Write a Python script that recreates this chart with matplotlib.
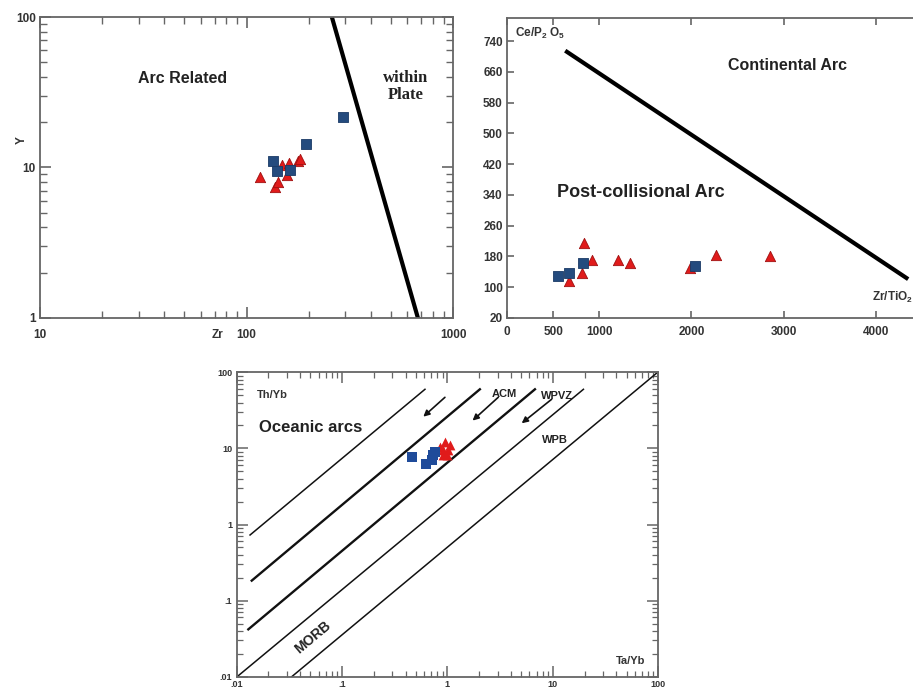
import numpy as np
import matplotlib
matplotlib.use("Agg")
import matplotlib.pyplot as plt
from matplotlib.ticker import NullFormatter, LogLocator

plt.rcParams['font.family'] = ['Liberation Sans', 'DejaVu Sans']
plt.rcParams['mathtext.default'] = 'regular'

"DATA"
# panel a : Zr vs Y (log-log)
zr_sq = [134, 141, 163, 194, 293]
y_sq = [11.0, 9.5, 9.6, 14.3, 21.7]
zr_tri = [116, 137, 142, 149, 157, 161, 178, 181]
y_tri = [8.6, 7.4, 8.0, 10.4, 8.9, 10.7, 11.0, 11.4]
zr_line = [259, 676]
y_line = [100, 1]

# panel b : Zr/TiO2 vs Ce/P2O5
zt_sq = [554, 674, 826, 2033]
ce_sq = [129, 137, 163, 155]
zt_tri = [674, 837, 924, 815, 1207, 1337, 1989, 2261, 2848]
ce_tri = [116, 215, 171, 137, 171, 163, 150, 184, 181]
zt_line = [650, 4330]
ce_line = [712, 124]

# panel c : Ta/Yb vs Th/Yb (log-log)
ta_sq = [0.457, 0.625, 0.708, 0.734, 0.761]
th_sq = [7.64, 6.24, 7.05, 8.2, 9.06]
ta_tri = [0.849, 0.947, 1.02, 0.912, 1.06, 0.90, 0.98]
th_tri = [10.3, 12.3, 9.5, 8.2, 11.1, 9.5, 8.2]
# boundary lines: (x0, y0, x1, y1, width)
bounds = [
    (0.0134, 0.728, 0.612, 59.8, 1.1),
    (0.0139, 0.183, 2.03, 59.8, 1.7),
    (0.0129, 0.0419, 6.76, 59.8, 1.7),
    (0.0101, 0.0100, 19.5, 59.8, 1.1),
    (0.0333, 0.0100, 96.0, 97.0, 1.1),
]
arrows = [
    (0.946, 46.9, 0.59, 26.1),
    (3.03, 46.9, 1.73, 23.2),
    (9.73, 44.2, 5.06, 21.4),
]

SQ = '#244b7e'
TRI = '#e01b1b'
SPINE = '#666666'
TXT = '#333333'


def frame(ax):
    for s in ax.spines.values():
        s.set_color(SPINE)
        s.set_linewidth(1.3)
    ax.tick_params(which='both', direction='in', top=True, right=True,
                   colors=SPINE, labelcolor=TXT)


fig = plt.figure(figsize=(9.13, 6.92), dpi=100)

# ---- panel a
ax1 = fig.add_axes([0.0438, 0.5405, 0.4524, 0.4349])
ax1.set_xscale('log')
ax1.set_yscale('log')
ax1.set_xlim(10, 1000)
ax1.set_ylim(1, 100)
frame(ax1)
ax1.set_xticks([10, 100, 1000])
ax1.set_xticklabels(['10', '100', '1000'], fontweight='bold', fontsize=8.5)
ax1.set_yticks([1, 10, 100])
ax1.set_yticklabels(['1', '10', '100'], fontweight='bold', fontsize=8.5)
ax1.xaxis.set_minor_formatter(NullFormatter())
ax1.yaxis.set_minor_formatter(NullFormatter())
ax1.tick_params(which='major', length=8, width=1.2, pad=8)
ax1.tick_params(which='minor', length=5, width=1.0)
ax1.tick_params(axis='y', which='major', pad=3)
ax1.plot(zr_line, y_line, color='black', lw=3.0, zorder=2)
ax1.scatter(zr_tri, y_tri, marker='^', s=55, color=TRI, edgecolor='#a01010', lw=0.6, zorder=3)
ax1.scatter(zr_sq, y_sq, marker='s', s=44, color=SQ, edgecolor='#1a3a66', lw=0.6, zorder=4)
ax1.text(0.345, 0.795, 'Arc Related', transform=ax1.transAxes, fontsize=11.5,
         fontweight='bold', color='#222222', ha='center', va='center')
ax1.text(0.885, 0.77, 'within\nPlate', transform=ax1.transAxes, fontsize=12,
         fontweight='bold', family='Liberation Serif', color='#222222',
         ha='center', va='center', linespacing=1.1)
ax1.text(-0.045, 0.59, 'Y', transform=ax1.transAxes, fontsize=8.5, fontweight='bold',
         color=TXT, rotation=90, ha='center', va='center')
ax1.text(0.4286, -0.055, 'Zr', transform=ax1.transAxes, fontsize=8.5, fontweight='bold',
         color=TXT, ha='center', va='center')

# ---- panel b
ax2 = fig.add_axes([0.5553, 0.5405, 0.4456, 0.4335])
ax2.set_xlim(0, 4410)
ax2.set_ylim(20, 800)
frame(ax2)
ax2.spines['right'].set_visible(False)
ax2.set_xticks([0, 500, 1000, 2000, 3000, 4000])
ax2.set_xticklabels(['0', '500', '1000', '2000', '3000', '4000'], fontweight='bold', fontsize=8.5)
ax2.set_yticks(np.arange(20, 741, 80))
ax2.set_yticklabels([str(v) for v in range(20, 741, 80)], fontweight='bold', fontsize=8.5)
ax2.tick_params(length=5, width=1.2, pad=6, right=False)
ax2.tick_params(axis='y', pad=3)
ax2.plot(zt_line, ce_line, color='black', lw=3.0, zorder=2)
ax2.scatter(zt_tri, ce_tri, marker='^', s=55, color=TRI, edgecolor='#a01010', lw=0.6, zorder=3)
ax2.scatter(zt_sq, ce_sq, marker='s', s=55, color=SQ, edgecolor='#1a3a66', lw=0.6, zorder=4)
ax2.text(0.69, 0.84, 'Continental Arc', transform=ax2.transAxes, fontsize=11.5,
         fontweight='bold', color='#222222', ha='center', va='center')
ax2.text(0.33, 0.417, 'Post-collisional Arc', transform=ax2.transAxes, fontsize=13,
         fontweight='bold', color='#222222', ha='center', va='center')
ax2.text(0.02, 0.95, r'Ce/P$_{2}$ O$_{5}$', transform=ax2.transAxes, fontsize=8.5,
         fontweight='bold', color=TXT, ha='left', va='center')
ax2.text(0.998, 0.07, r'Zr/TiO$_{2}$', transform=ax2.transAxes, fontsize=8.5,
         fontweight='bold', color=TXT, ha='right', va='center')

# ---- panel c
ax3 = fig.add_axes([0.2592, 0.0221, 0.4618, 0.4399])
ax3.set_xscale('log')
ax3.set_yscale('log')
ax3.set_xlim(0.01, 100)
ax3.set_ylim(0.01, 100)
frame(ax3)
dec = [0.01, 0.1, 1, 10, 100]
declab = ['.01', '.1', '1', '10', '100']
ax3.set_xticks(dec)
ax3.set_xticklabels(declab, fontweight='bold', fontsize=6.5)
ax3.set_yticks(dec)
ax3.set_yticklabels(declab, fontweight='bold', fontsize=6.5)
ax3.xaxis.set_minor_locator(LogLocator(subs=np.arange(2, 10)))
ax3.yaxis.set_minor_locator(LogLocator(subs=np.arange(2, 10)))
ax3.xaxis.set_minor_formatter(NullFormatter())
ax3.yaxis.set_minor_formatter(NullFormatter())
ax3.tick_params(which='major', length=8, width=1.1, pad=3)
ax3.tick_params(axis='x', which='major', pad=2.5)
ax3.tick_params(which='minor', length=4, width=0.9)
for x0, y0, x1, y1, w in bounds:
    ax3.plot([x0, x1], [y0, y1], color='#111111', lw=w, zorder=2)
for x0, y0, x1, y1 in arrows:
    ax3.annotate('', xy=(x1, y1), xytext=(x0, y0),
                 arrowprops=dict(arrowstyle='-|>', color='#111111', lw=1.2,
                                 mutation_scale=9, shrinkA=0, shrinkB=0))
ax3.scatter(ta_tri, th_tri, marker='^', s=50, color=TRI, lw=0, zorder=3)
ax3.scatter(ta_sq, th_sq, marker='s', s=48, color='#1f4b9a', lw=0, zorder=4)
ax3.text(0.085, 0.925, 'Th/Yb', transform=ax3.transAxes, fontsize=8,
         fontweight='bold', color=TXT, ha='center', va='center')
ax3.text(0.175, 0.82, 'Oceanic arcs', transform=ax3.transAxes, fontsize=12,
         fontweight='bold', color='#222222', ha='center', va='center')
ax3.text(0.635, 0.93, 'ACM', transform=ax3.transAxes, fontsize=8,
         fontweight='bold', color='#222222', ha='center', va='center')
ax3.text(0.76, 0.922, 'WPVZ', transform=ax3.transAxes, fontsize=8,
         fontweight='bold', color='#222222', ha='center', va='center')
ax3.text(0.756, 0.777, 'WPB', transform=ax3.transAxes, fontsize=8,
         fontweight='bold', color='#222222', ha='center', va='center')
ax3.text(0.18, 0.13, 'MORB', transform=ax3.transAxes, fontsize=10,
         fontweight='bold', color='#222222', ha='center', va='center', rotation=40)
ax3.text(0.935, 0.05, 'Ta/Yb', transform=ax3.transAxes, fontsize=8,
         fontweight='bold', color=TXT, ha='center', va='center')

fig.savefig('out.png', dpi=100)
